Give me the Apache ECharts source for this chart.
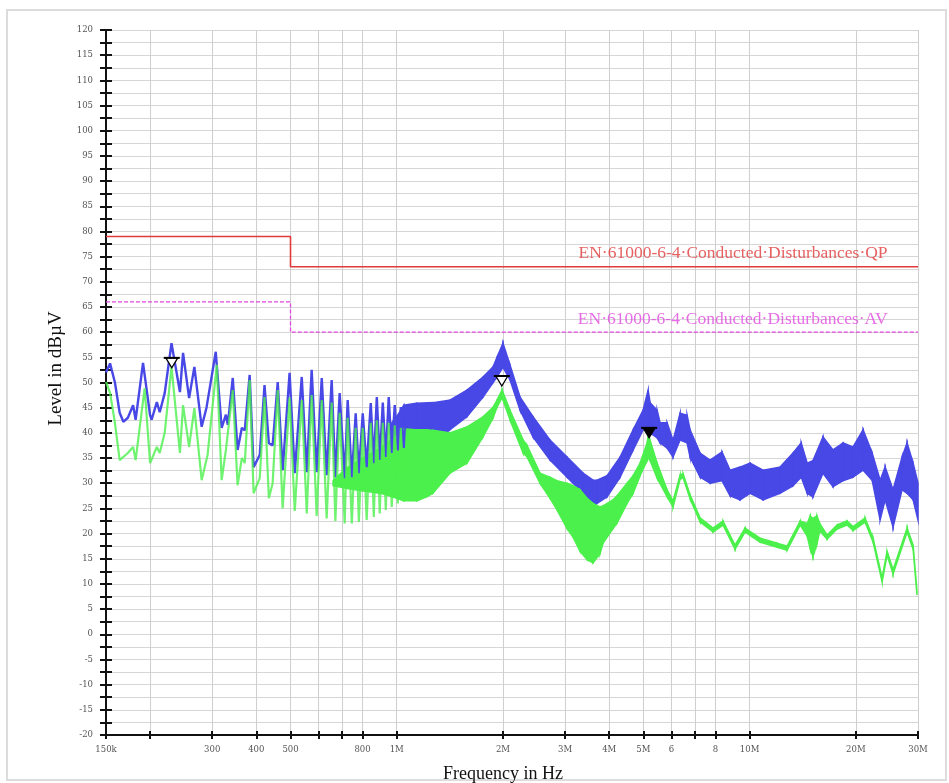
<!DOCTYPE html>
<html><head><meta charset="utf-8">
<script src="https://cdn.jsdelivr.net/npm/echarts@6/dist/echarts.min.js"></script>
<style>html,body{margin:0;padding:0;background:#fff}#c{width:949px;height:783px}</style>
</head><body><div id="c"></div>
<script>
// ---- axes ----
const xTickValues = [0.15,0.2,0.3,0.4,0.5,0.6,0.7,0.8,1,2,3,4,5,6,7,8,10,20,30];
const xLabelValues = [0.15,0.3,0.4,0.5,0.8,1,2,3,4,5,6,8,10,20,30];
const xLabelTexts = ['150k','300','400','500','800','1M','2M','3M','4M','5M','6','8','10M','20M','30M'];
const yMin = -20, yMax = 120, yStep = 5;

// ---- limits (MHz, dBµV) ----
const qpFreq = [0.15, 0.5, 0.5, 30];
const qpLevel = [79, 79, 73, 73];
const avFreq = [0.15, 0.5, 0.5, 30];
const avLevel = [66, 66, 60, 60];
const limitLabelFreq = [24.6, 24.6];
const limitLabelLevel = [73, 60];
const limitLabelText = ['EN·61000-6-4·Conducted·Disturbances·QP', 'EN·61000-6-4·Conducted·Disturbances·AV'];

// ---- blue trace, low band (line) ----
const blueFreq = [0.150,0.154,0.159,0.164,0.168,0.173,0.179,0.182,0.191,0.200,0.202,0.209,0.213,0.220,0.230,0.243,0.248,0.258,0.267,0.280,0.289,0.307,0.319,0.328,0.332,0.343,0.354,0.364,0.371,0.383,0.393,0.409,0.422,0.434,0.445,0.460,0.475,0.497,0.514,0.538,0.556,0.574,0.593,0.613,0.633,0.654,0.670,0.689,0.712,0.726,0.746,0.765,0.781,0.801,0.822,0.844,0.861,0.878,0.895,0.913,0.931,0.949,0.968,0.987,1.007,1.027,1.047,1.068];
const blueLevel = [52.0,53.8,50.0,44.0,42.2,43.0,45.5,42.6,53.9,43.5,42.6,46.1,44.1,47.9,57.8,48.1,55.9,46.9,53.1,41.2,45.0,56.1,41.0,43.6,41.6,50.9,36.6,41.0,40.5,51.5,33.2,35.6,49.5,38.0,37.5,50.1,32.6,51.9,32.0,51.1,32.2,52.5,32.2,50.9,31.6,50.5,31.2,47.9,31.0,46.5,31.2,43.9,32.0,43.9,33.2,45.9,34.0,47.1,34.6,46.0,35.2,47.1,36.0,45.5,36.5,45.1,37.0,44.5];

// ---- green trace, low band (line) ----
const greenFreq = [0.150,0.154,0.159,0.164,0.173,0.179,0.182,0.193,0.200,0.209,0.213,0.220,0.230,0.243,0.248,0.258,0.267,0.280,0.291,0.309,0.319,0.328,0.343,0.354,0.364,0.371,0.383,0.393,0.409,0.422,0.434,0.445,0.460,0.475,0.497,0.514,0.538,0.556,0.574,0.593,0.613,0.633,0.654,0.670,0.689,0.712,0.726,0.746,0.765,0.781,0.801,0.822,0.844,0.861,0.878,0.895,0.913,0.931,0.949,0.968,0.987,1.007,1.027,1.047,1.068];
const greenLevel = [50.1,48.0,42.0,34.6,36.0,37.2,34.6,48.9,34.0,37.2,36.0,40.0,53.1,36.0,45.5,37.2,44.9,30.6,35.6,53.5,30.6,36.6,48.5,29.6,35.0,34.0,50.5,28.0,31.0,47.1,27.0,30.0,48.5,25.0,47.0,24.5,46.5,24.0,47.5,23.5,46.5,23.0,46.0,22.5,44.0,22.0,43.0,22.0,41.0,22.3,41.0,22.7,42.0,23.3,42.5,24.0,42.0,24.7,42.0,25.3,41.5,26.0,41.0,26.5,40.8];

// ---- blue trace, dense band envelope ----
const blueBandFreq = [0.968,1.007,1.047,1.140,1.266,1.415,1.582,1.756,1.875,1.924,2.000,2.094,2.236,2.433,2.718,3.038,3.373,3.600,3.695,3.945,4.295,4.676,4.991,5.156,5.224,5.468,5.576,5.836,6.068,6.353,6.649,6.780,7.237,7.725,8.353,8.800,9.393,10.03,10.92,12.20,13.28,14.00,14.56,15.12,16.14,17.23,18.40,19.64,20.97,22.24,23.43,24.21,25.50,27.04,27.94,29.06,30.0];
const blueBandHi = [42.0,43.5,45.5,45.9,46.0,46.5,48.5,51.1,53.1,55.0,57.8,53.5,47.1,43.2,38.6,35.2,32.0,30.6,30.6,31.5,35.2,40.6,44.5,48.5,46.0,44.5,42.0,42.0,38.5,43.9,43.5,40.6,36.0,34.6,36.2,32.6,33.2,34.0,32.6,33.2,36.0,38.0,34.0,34.5,39.2,36.6,38.0,37.2,40.6,36.0,30.6,33.2,28.7,35.2,38.0,34.0,30.0];
const blueBandLo = [37.5,37.5,37.0,36.0,38.0,40.6,43.2,47.1,50.0,51.1,53.0,50.5,44.5,39.2,34.6,31.2,28.0,25.3,26.0,27.3,31.2,36.6,40.6,41.0,40.0,39.0,38.0,37.0,35.2,38.6,38.0,35.2,31.2,30.0,30.5,27.5,26.7,28.0,26.7,28.0,29.5,31.2,28.0,27.3,32.0,29.3,30.5,31.2,32.6,30.6,22.7,26.7,21.3,28.7,28.0,26.7,22.7];

// ---- green trace, dense band envelope ----
const greenBandFreq = [0.66,0.72,0.80,0.90,1.0,1.047,1.140,1.217,1.266,1.415,1.582,1.756,1.875,1.924,1.988,2.094,2.281,2.341,2.547,2.718,2.845,3.038,3.159,3.307,3.462,3.600,3.768,3.843,4.103,4.212,4.496,4.676,4.894,5.123,5.156,5.224,5.468,5.836,6.068,6.353,6.478,6.780,7.237,7.878,8.408,9.092,9.706,10.71,11.96,12.77,13.91,14.56,14.85,15.12,15.52,15.80,16.57,17.69,18.89,19.64,21.24,22.38,23.74,24.52,25.50,27.94,29.06,29.80];
const greenBandHi = [30.5,33.0,35.0,37.0,39.5,40.8,40.6,40.6,40.5,40.0,41.2,43.2,45.1,46.5,48.5,44.5,38.6,37.5,32.0,31.2,30.5,30.0,29.5,28.7,27.0,26.0,25.3,25.5,26.7,27.5,30.0,31.5,34.0,38.0,39.2,38.5,34.0,28.7,26.5,31.6,31.9,27.7,23.1,21.1,22.5,17.7,21.1,19.1,18.1,17.5,22.5,22.0,23.5,23.0,23.5,22.0,19.7,21.7,22.5,21.4,23.1,19.1,11.2,16.5,12.8,21.1,17.7,8.6];
const greenBandLo = [29.5,29.0,28.5,28.0,27.0,26.5,26.5,27.3,28.0,32.0,34.0,39.2,43.0,45.1,47.0,42.6,36.0,35.2,30.0,27.0,24.7,21.0,19.3,16.5,14.8,14.2,16.0,18.1,21.0,22.1,26.0,28.0,31.5,34.5,35.0,34.5,31.0,27.3,25.3,30.8,31.1,26.9,22.3,20.3,21.7,16.9,20.3,18.3,17.3,16.7,21.7,19.5,17.0,15.4,18.0,20.5,18.9,20.9,21.7,20.6,22.3,18.3,10.4,15.7,12.0,20.3,16.9,7.8];

// ---- markers ----
const markerFreq = [0.2304, 1.985, 5.19];
const markerLevel = [53.9, 50.3, 40.0];
const markerFilled = [0, 0, 1];

const BLUE = '#4848e6', GREEN = '#4cf04c', RED = '#e03a3a', MAG = '#e048e0';
const SERIF = '"Liberation Serif","Times New Roman",serif';
const TICKFONT = '"DejaVu Serif",serif';

const zip2 = (a, b) => a.map((v, i) => [v, b[i]]);
const zip3 = (a, b, c) => a.map((v, i) => [v, b[i], c[i]]);

function bandRender(color) {
  return function (params, api) {
    const i = params.dataIndexInside;
    if (i >= params.dataInsideLength - 1) return null;
    const a = api.coord([api.value(0, i), api.value(1, i)]);
    const b = api.coord([api.value(0, i + 1), api.value(1, i + 1)]);
    const c = api.coord([api.value(0, i + 1), api.value(2, i + 1)]);
    const d = api.coord([api.value(0, i), api.value(2, i)]);
    return { type: 'polygon', shape: { points: [a, b, c, d] },
      style: { fill: color, stroke: color, lineWidth: 1.5 } };
  };
}

function xFmt(v) {
  const i = xLabelValues.findIndex(t => Math.abs(t - v) < 1e-3 * t);
  return i >= 0 ? xLabelTexts[i] : '';
}

const xBase = { type: 'log', min: 0.15, max: 30, logBase: 10, position: 'bottom' };
const yBase = { type: 'value', min: yMin, max: yMax, interval: yStep, position: 'left' };

const option = {
  animation: false,
  backgroundColor: '#fff',
  graphic: [{ type: 'rect', shape: { x: 7, y: 10, width: 939, height: 770 },
    style: { fill: 'none', stroke: '#dcdcdc', lineWidth: 2 }, z: -10 }],
  grid: { left: 106, right: 31, top: 30, bottom: 48, containLabel: false, outerBoundsMode: 'none' },
  xAxis: [
    Object.assign({}, xBase, {
      name: 'Frequency in Hz', nameLocation: 'middle', nameGap: 30,
      nameTextStyle: { fontFamily: SERIF, fontSize: 18, color: '#111', padding: [0, 18, 0, 0] },
      axisLine: { show: true, onZero: false, lineStyle: { color: '#111', width: 2 } },
      axisTick: { show: true, customValues: xTickValues, length: 4, inside: false, lineStyle: { color: '#111', width: 2 } },
      axisLabel: { show: true, customValues: xLabelValues, formatter: xFmt, margin: 10,
        fontFamily: TICKFONT, fontSize: 8.5, color: '#555' },
      splitLine: { show: true, lineStyle: { color: '#cfcfcf', width: 1 } },
      minorTick: { show: false }, minorSplitLine: { show: false }
    }),
    Object.assign({}, xBase, {
      axisLine: { show: false, onZero: false },
      axisTick: { show: true, customValues: xTickValues, length: 4, inside: true, lineStyle: { color: '#111', width: 2 } },
      axisLabel: { show: false }, splitLine: { show: false }
    })
  ],
  yAxis: [
    Object.assign({}, yBase, {
      name: 'Level in dBµV', nameLocation: 'middle', nameGap: 26, nameRotate: 90,
      nameTextStyle: { fontFamily: SERIF, fontSize: 19, color: '#111', padding: [0, 0, 0, 28] },
      axisLine: { show: true, onZero: false, lineStyle: { color: '#111', width: 2 } },
      axisTick: { show: true, length: 6, inside: false, lineStyle: { color: '#111', width: 2 } },
      minorTick: { show: true, splitNumber: 2, length: 6, lineStyle: { color: '#111', width: 2 } },
      axisLabel: { show: true, margin: 13, fontFamily: TICKFONT, fontSize: 8.5, color: '#555' },
      splitLine: { show: true, lineStyle: { color: '#d6d6d6', width: 1 } },
      minorSplitLine: { show: true, lineStyle: { color: '#d6d6d6', width: 1 } }
    }),
    Object.assign({}, yBase, {
      axisLine: { show: false, onZero: false },
      axisTick: { show: true, length: 6, inside: true, lineStyle: { color: '#111', width: 2 } },
      minorTick: { show: true, splitNumber: 2, length: 6, lineStyle: { color: '#111', width: 2 } },
      axisLabel: { show: false }, splitLine: { show: false }, minorSplitLine: { show: false }
    })
  ],
  series: [
    { type: 'custom', name: 'blueBand', renderItem: bandRender(BLUE),
      data: zip3(blueBandFreq, blueBandHi, blueBandLo), encode: { x: 0, y: [1, 2] }, z: 2 },
    { type: 'custom', name: 'greenBand', renderItem: bandRender(GREEN),
      data: zip3(greenBandFreq, greenBandHi, greenBandLo), encode: { x: 0, y: [1, 2] }, z: 3 },
    { type: 'line', name: 'blue', data: zip2(blueFreq, blueLevel), showSymbol: false, symbol: 'none',
      lineStyle: { color: BLUE, width: 2.4 }, z: 4 },
    { type: 'line', name: 'green', data: zip2(greenFreq, greenLevel), showSymbol: false, symbol: 'none',
      lineStyle: { color: GREEN, width: 2.2, opacity: 0.8 }, z: 5 },
    { type: 'line', name: 'QP', data: zip2(qpFreq, qpLevel), showSymbol: false, symbol: 'none',
      lineStyle: { color: RED, width: 1.6 }, z: 6 },
    { type: 'line', name: 'AV', data: zip2(avFreq, avLevel), showSymbol: false, symbol: 'none',
      lineStyle: { color: MAG, width: 1.3, type: [4, 2] }, z: 6 },
    { type: 'scatter', name: 'limitLabels', symbolSize: 0,
      data: limitLabelFreq.map((f, i) => ({ value: [f, limitLabelLevel[i]], text: limitLabelText[i], color: i === 0 ? RED : MAG })),
      label: { show: true, position: [0, 0], align: 'right', verticalAlign: 'bottom', offset: [0, -4],
        fontFamily: SERIF, fontSize: 17.5,
        formatter: p => p.data.text },
      itemStyle: { color: RED }, z: 7 },
    { type: 'custom', name: 'markers', z: 8,
      data: zip3(markerFreq, markerLevel, markerFilled), encode: { x: 0, y: 1 },
      renderItem: function (params, api) {
        const p = api.coord([api.value(0), api.value(1)]);
        const filled = api.value(2) === 1;
        return { type: 'group', children: [
          { type: 'polygon', shape: { points: [[p[0] - 6, p[1] - 5], [p[0] + 6, p[1] - 5], [p[0], p[1] + 5]] },
            style: { fill: filled ? '#000' : '#fff', stroke: '#000', lineWidth: 1.3 } },
          { type: 'line', shape: { x1: p[0] - 8, y1: p[1] - 5, x2: p[0] + 8, y2: p[1] - 5 },
            style: { stroke: '#000', lineWidth: 2 } }
        ] };
      } }
  ]
};
option.series[6].data.forEach(d => { d.label = { color: d.color }; });

const chart = echarts.init(document.getElementById('c'), null, { renderer: 'canvas' });
chart.setOption(option);
</script></body></html>
